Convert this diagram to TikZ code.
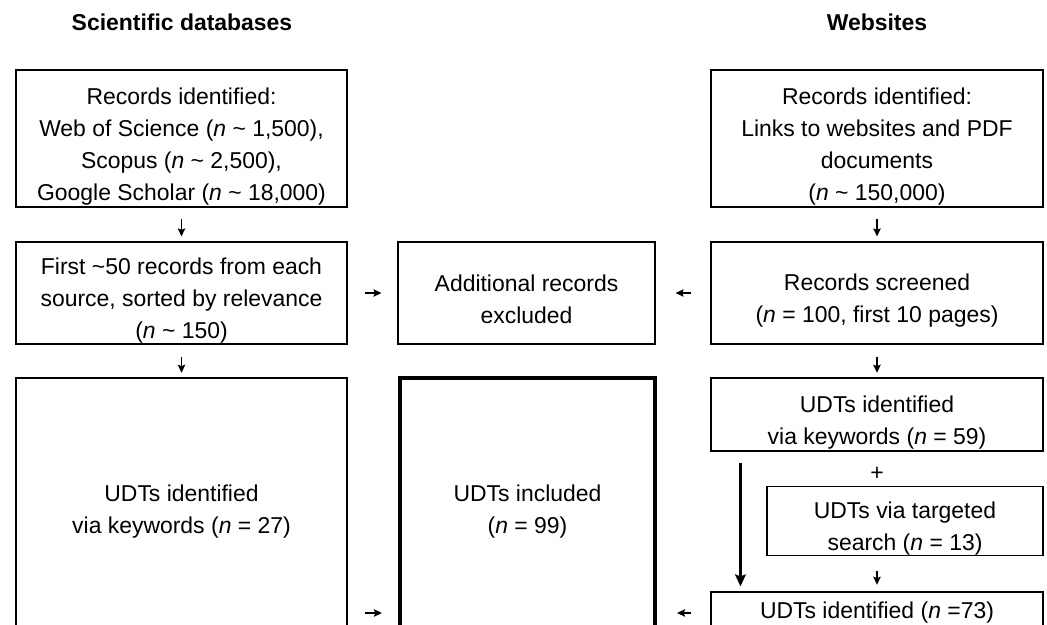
\documentclass[tikz,border=0pt]{standalone}
\usepackage{fontspec}
\setmainfont{Liberation Sans}
\usetikzlibrary{arrows.meta}
\newcommand{\upstrut}{\rule{0pt}{24.5pt}}
\newcommand{\dnstrut}{\rule[-3.5pt]{0pt}{3.5pt}}
\tikzset{
	txt/.style={font=\fontsize{17.2}{24}\selectfont, align=center, inner sep=0pt},
	box/.style={txt, draw, line width=0.8pt},
	head/.style={txt, font=\fontsize{17.2}{24}\selectfont\bfseries},
	sarrow/.style={-{Stealth[length=6pt, width=5.5pt, inset=1pt]}, line width=1.3pt},
}
\begin{document}
\begin{tikzpicture}[x=0.75pt, y=-0.75pt]
	\useasboundingbox (0,0) rectangle (1047,625);
	\clip (0,0) rectangle (1047,625);

		\node [head] (0) at (182, 22) {Scientific databases};
		\node [head] (1) at (877, 22) {Websites};
		\node [box, minimum width=248.25pt, minimum height=102.75pt] (2) at (181.5, 138.5) {\upstrut Records identified:\\Web of Science (\textit{n} \textasciitilde{} 1,500),\\Scopus (\textit{n} \textasciitilde{} 2,500),\\Google Scholar (\textit{n} \textasciitilde{} 18,000)\dnstrut};
		\node [box, minimum width=249pt, minimum height=102.75pt] (3) at (877, 138.5) {\upstrut Records identified:\\Links to websites and PDF\\documents\\(\textit{n} \textasciitilde{} 150,000)\dnstrut};
		\node [box, minimum width=248.25pt, minimum height=76.5pt] (4) at (181.5, 293) {\upstrut First \textasciitilde{}50 records from each\\source, sorted by relevance\\(\textit{n} \textasciitilde{} 150)\dnstrut};
		\node [box, minimum width=192.75pt, minimum height=76.5pt] (5) at (526.5, 293) {\upstrut Additional records\\excluded\dnstrut};
		\node [box, minimum width=249pt, minimum height=76.5pt] (6) at (877, 293) {\upstrut Records screened\\(\textit{n} = 100, first 10 pages)\dnstrut};
		\node [box, minimum width=248.25pt, minimum height=189pt] (7) at (181.5, 504) {\upstrut UDTs identified\\via keywords (\textit{n} = 27)\dnstrut};
		\node [box, line width=3pt, minimum width=191.25pt, minimum height=189pt] (8) at (527.5, 504) {\upstrut UDTs included\\(\textit{n} = 99)\dnstrut};
		\node [box, minimum width=249pt, minimum height=54.75pt] (9) at (877, 414.5) {\upstrut UDTs identified\\via keywords (\textit{n} = 59)\dnstrut};
		\node [txt] (10) at (877, 474) {+};
		\node [box, minimum width=207pt, minimum height=51pt] (11) at (905, 521) {\upstrut UDTs via targeted\\search (\textit{n} = 13)\dnstrut};
		\node [box, minimum width=249pt, minimum height=31.5pt] (12) at (877, 613) {UDTs identified (\textit{n} =73)};

		\draw [sarrow, shorten <=8.25pt, shorten >=3.75pt] (2) to (4);
		\draw [sarrow, shorten <=8.25pt, shorten >=3.75pt] (3) to (6);
		\draw [sarrow, shorten <=12.75pt, shorten >=12pt] (4) to (5);
		\draw [sarrow, shorten <=14.25pt, shorten >=15pt] (6) to (5);
		\draw [sarrow, shorten <=9pt, shorten >=3.5pt] (4) to (7);
		\draw [sarrow, shorten <=9pt, shorten >=3.5pt] (6) to (9);
		\draw [-{Stealth[length=9pt, width=8pt, inset=1.5pt]}, line width=2.4pt, shorten <=8.25pt, shorten >=3.75pt] ([xshift=22.5pt]9.south west) to ([xshift=22.5pt]12.north west);
		\draw [sarrow, shorten <=11pt, shorten >=5pt] (11.south -| 12) to (12);
		\draw [sarrow, shorten <=12.75pt, shorten >=12pt] (7.east |- 12) to (8.west |- 12);
		\draw [sarrow, shorten <=14.25pt, shorten >=15pt] (12) to (8.east |- 12);
\end{tikzpicture}
\end{document}
